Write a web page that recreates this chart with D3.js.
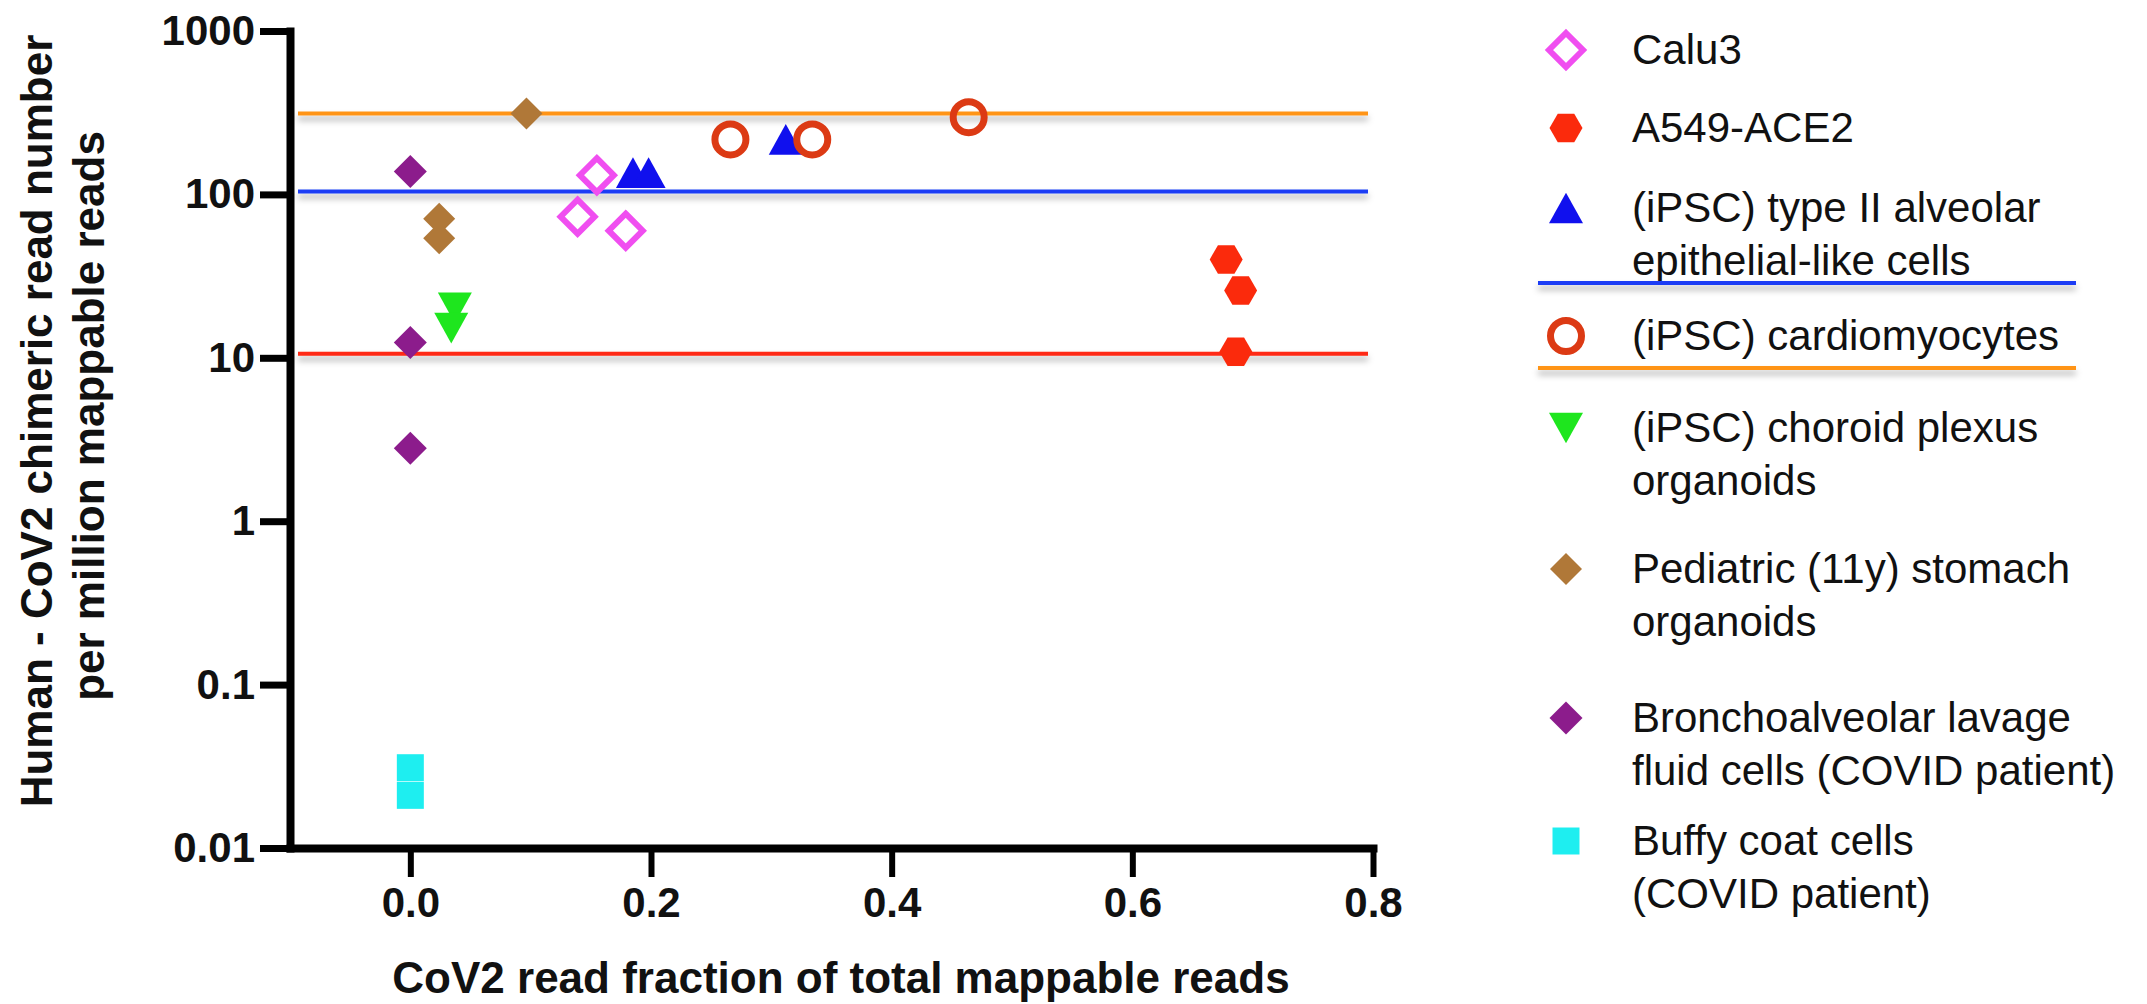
<!DOCTYPE html>
<html>
<head>
<meta charset="utf-8">
<script src="https://cdn.jsdelivr.net/npm/d3@7"></script>
<style>
  body { margin: 0; background: #fff; }
  svg { display: block; background: #fff; }
  text { font-family: "Liberation Sans", Arial, Helvetica, sans-serif; fill: #111; }
</style>
</head>
<body>
<svg id="chart" width="2147" height="1004"></svg>
<script>
// 1: DATA
const calu3X = [0.155, 0.139, 0.179];
const calu3Y = [131, 73, 60];
const a549X = [0.678, 0.690, 0.686];
const a549Y = [40, 25.8, 10.9];
const at2X = [0.185, 0.198, 0.312];
const at2Y = [136, 136, 217];
const cardioX = [0.266, 0.334, 0.464];
const cardioY = [217, 217, 297];
const choroidX = [0.037, 0.034];
const choroidY = [20.2, 15.2];
const stomachX = [0.0965, 0.024, 0.024];
const stomachY = [313, 71, 54];
const balfX = [0, 0, 0];
const balfY = [138, 12.4, 2.8];
const buffyX = [0, 0];
const buffyY = [0.031, 0.021];

// horizontal reference lines (orange, blue, red)
const refValues = [313, 104, 10.6];

const xTicks = [0, 0.2, 0.4, 0.6, 0.8];
const yTicks = [0.01, 0.1, 1, 10, 100, 1000];

const legendLabels = [
    ["Calu3"],
    ["A549-ACE2"],
    ["(iPSC) type II alveolar", "epithelial-like cells"],
    ["(iPSC) cardiomyocytes"],
    ["(iPSC) choroid plexus", "organoids"],
    ["Pediatric (11y) stomach", "organoids"],
    ["Bronchoalveolar lavage", "fluid cells (COVID patient)"],
    ["Buffy coat cells", "(COVID patient)"]
];

// 2: STYLE / LAYOUT
const font = '"Liberation Sans", Arial, Helvetica, sans-serif';
const refColors = ["#ff9412", "#1a3cf5", "#ff2a14"];
const legendBaselines = [64, 142, 222, 350, 442, 583, 732, 855];

// custom marker shapes (size = half width)
const diamond = { draw(c, r) { c.moveTo(0, -r); c.lineTo(r, 0); c.lineTo(0, r); c.lineTo(-r, 0); c.closePath(); } };
const hexagon = { draw(c, r) {
    for (let i = 0; i < 6; i++) {
        const a = i * Math.PI / 3;
        if (i === 0) c.moveTo(r * Math.cos(a), r * Math.sin(a));
        else c.lineTo(r * Math.cos(a), r * Math.sin(a));
    }
    c.closePath();
} };
const triUp = { draw(c, r) { const h = r * 0.9; c.moveTo(0, -h); c.lineTo(r, h); c.lineTo(-r, h); c.closePath(); } };
const triDown = { draw(c, r) { const h = r * 0.9; c.moveTo(0, h); c.lineTo(r, -h); c.lineTo(-r, -h); c.closePath(); } };
const square = { draw(c, r) { c.moveTo(-r, -r); c.lineTo(r, -r); c.lineTo(r, r); c.lineTo(-r, r); c.closePath(); } };
const ring = { draw(c, r) { c.moveTo(r, 0); c.arc(0, 0, r, 0, 2 * Math.PI); } };

const series = [
    { xs: calu3X, ys: calu3Y, type: diamond, r: 17, fill: "none", stroke: "#f04ef0", sw: 6 },
    { xs: a549X, ys: a549Y, type: hexagon, r: 16.5, fill: "#fb2a0c", stroke: "none", sw: 0 },
    { xs: at2X, ys: at2Y, type: triUp, r: 17, fill: "#1010ee", stroke: "none", sw: 0 },
    { xs: cardioX, ys: cardioY, type: ring, r: 15.5, fill: "none", stroke: "#dc3a14", sw: 7 },
    { xs: choroidX, ys: choroidY, type: triDown, r: 17, fill: "#1ee61e", stroke: "none", sw: 0 },
    { xs: stomachX, ys: stomachY, type: diamond, r: 16, fill: "#b07838", stroke: "none", sw: 0 },
    { xs: balfX, ys: balfY, type: diamond, r: 16.5, fill: "#8c1c8c", stroke: "none", sw: 0 },
    { xs: buffyX, ys: buffyY, type: square, r: 13.5, fill: "#1eeef0", stroke: "none", sw: 0 }
];

const svg = d3.select("#chart");

const defs = svg.append("defs");
defs.append("filter")
    .attr("id", "shadow")
    .attr("filterUnits", "userSpaceOnUse")
    .attr("x", 0).attr("y", 0).attr("width", 2147).attr("height", 1004)
  .append("feDropShadow")
    .attr("dx", 0).attr("dy", 5)
    .attr("stdDeviation", 3)
    .attr("flood-color", "#000")
    .attr("flood-opacity", 0.3);

// 3: SCALES
const x = d3.scaleLinear().domain([-0.1, 0.8]).range([290, 1373]);
const y = d3.scaleLog().domain([0.01, 1000]).range([848, 31]);

// 4: REFERENCE LINES
svg.append("g")
    .selectAll("line")
    .data(refValues)
    .join("line")
    .attr("x1", x(-0.1) + 8)
    .attr("x2", x(0.8) - 5)
    .attr("y1", d => y(d))
    .attr("y2", d => y(d))
    .attr("stroke", (d, i) => refColors[i])
    .attr("stroke-width", 4)
    .attr("filter", "url(#shadow)");

// 5: AXES
const yAxis = svg.append("g")
    .attr("transform", `translate(${x(-0.1)},0)`)
    .call(d3.axisLeft(y)
        .tickValues(yTicks)
        .tickFormat(d => d >= 1 ? d3.format("d")(d) : String(d))
        .tickSize(30)
        .tickSizeOuter(0)
        .tickPadding(5));

const xAxis = svg.append("g")
    .attr("transform", `translate(0,${y(0.01)})`)
    .call(d3.axisBottom(x)
        .tickValues(xTicks)
        .tickFormat(d3.format(".1f"))
        .tickSize(29)
        .tickSizeOuter(0)
        .tickPadding(10));

[yAxis, xAxis].forEach(g => {
    g.select(".domain").attr("stroke", "#000").attr("stroke-width", 8).attr("stroke-linecap", "square");
    g.selectAll(".tick line").attr("stroke", "#000").attr("stroke-width", 7);
    g.selectAll(".tick text")
        .attr("fill", "#111")
        .style("font-family", font)
        .style("font-size", "42px")
        .style("font-weight", "bold");
});
xAxis.selectAll(".tick line").attr("stroke-width", 6);

// 6: LABELS
svg.append("text")
    .attr("x", 841)
    .attr("y", 993)
    .attr("text-anchor", "middle")
    .style("font-size", "44px")
    .style("font-weight", "bold")
    .text("CoV2 read fraction of total mappable reads");

const yLabel = svg.append("g");
yLabel.append("text")
    .attr("transform", "translate(52,421) rotate(-90)")
    .attr("text-anchor", "middle")
    .style("font-size", "44px")
    .style("font-weight", "bold")
    .text("Human - CoV2 chimeric read number");
yLabel.append("text")
    .attr("transform", "translate(104,416) rotate(-90)")
    .attr("text-anchor", "middle")
    .style("font-size", "44px")
    .style("font-weight", "bold")
    .text("per million mappable reads");

// 7: POINTS
series.forEach(s => {
    const pts = s.xs.map((v, i) => [v, s.ys[i]]);
    svg.append("g")
        .selectAll("path")
        .data(pts)
        .join("path")
        .attr("transform", d => `translate(${x(d[0])},${y(d[1])})`)
        .attr("d", d3.symbol().type(s.type).size(s.r))
        .attr("fill", s.fill)
        .attr("stroke", s.stroke)
        .attr("stroke-width", s.sw);
});

// 8: LEGEND
const legend = svg.append("g");
legendLabels.forEach((lines, i) => {
    const s = series[i];
    const base = legendBaselines[i];
    legend.append("path")
        .attr("transform", `translate(1566,${base - 14})`)
        .attr("d", d3.symbol().type(s.type).size(s.r))
        .attr("fill", s.fill)
        .attr("stroke", s.stroke)
        .attr("stroke-width", s.sw);
    const t = legend.append("text")
        .attr("x", 1632)
        .attr("y", base)
        .style("font-size", "42px");
    lines.forEach((ln, j) => {
        t.append("tspan")
            .attr("x", 1632)
            .attr("dy", j === 0 ? 0 : 53)
            .text(ln);
    });
});

// legend line keys for the blue and orange reference lines
const legendLineY = [368, 283];
legend.selectAll("line")
    .data(legendLineY)
    .join("line")
    .attr("x1", 1538)
    .attr("x2", 2076)
    .attr("y1", d => d)
    .attr("y2", d => d)
    .attr("stroke", (d, i) => refColors[i])
    .attr("stroke-width", 4)
    .attr("filter", "url(#shadow)");
</script>
</body>
</html>
